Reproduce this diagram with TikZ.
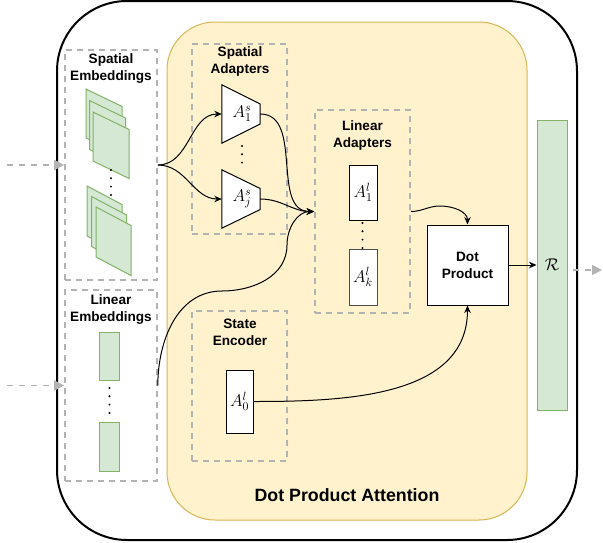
\RequirePackage{fix-cm}
\documentclass[tikz,border=0pt]{standalone}
\usepackage[no-math]{fontspec}
\setmainfont{Liberation Sans}
\usetikzlibrary{arrows.meta,calc}
\definecolor{ylwfill}{HTML}{FFF2CC}
\definecolor{ylwdraw}{HTML}{D6B656}
\definecolor{grnfill}{HTML}{D5E8D4}
\definecolor{grndraw}{HTML}{82B366}
\definecolor{dashgray}{HTML}{B3B3B3}
\begin{document}
\begin{tikzpicture}[x=1pt,y=-1pt,
  dbox/.style={draw=dashgray, line width=1.6pt, dash pattern=on 6pt off 5pt, inner sep=0pt},
  ttl/.style={font=\bfseries\fontsize{13.6}{17}\selectfont, align=center},
  wbox/.style={draw=black, fill=white, line width=1pt, inner sep=0pt},
  gbox/.style={draw=grndraw, fill=grnfill, line width=1pt, inner sep=0pt},
  conn/.style={black, line width=1pt, -{Stealth[length=7.5pt,width=6.5pt]}},
  inarr/.style={dashgray, line width=1.8pt, dash pattern=on 6pt off 6pt, -{Triangle[length=10pt,width=10pt]}},
  mlbl/.style={font=\fontsize{17}{20}\selectfont},
  dotcol/.style={line width=2.2pt, line cap=round, dash pattern=on 0pt off 8.3pt},
  trap/.style={draw=black, fill=white, line width=1pt}
]
\useasboundingbox (0,0) rectangle (603,542);
\fill[white] (0,0) rectangle (603,542);

% outer container
\node[draw=black, line width=2pt, rounded corners=70pt, minimum width=520pt, minimum height=539pt, inner sep=0pt] (outer) at (317,270.5) {};
% yellow attention container
\node[draw=ylwdraw, fill=ylwfill, line width=1pt, rounded corners=48pt, minimum width=360pt, minimum height=498pt, inner sep=0pt] (dpa) at (347,271) {};
\node[font=\bfseries\fontsize{17.8}{20}\selectfont] (dpalbl) at (347,495) {Dot Product Attention};

% dashed group boxes
\node[dbox, minimum width=92pt, minimum height=230pt] (sebox) at (111,165) {};
\node[dbox, minimum width=92pt, minimum height=191pt] (lebox) at (111,385.5) {};
\node[dbox, minimum width=95pt, minimum height=190pt] (sabox) at (239.5,139) {};
\node[dbox, minimum width=95pt, minimum height=203pt] (labox) at (362.5,211.5) {};
\node[dbox, minimum width=95pt, minimum height=150pt] (stbox) at (239.5,386) {};

% titles
\node[ttl] (setl) at (111,68.5) {Spatial\\Embeddings};
\node[ttl] (letl) at (111,309.5) {Linear\\Embeddings};
\node[ttl] (satl) at (240,61) {Spatial\\Adapters};
\node[ttl] (latl) at (362.5,135.5) {Linear\\Adapters};
\node[ttl] (sttl) at (240,332.5) {State\\Encoder};

% spatial embedding sheets
\foreach \x/\y in {86/89, 89.5/100.5, 93/112}
  \filldraw[gbox] (\x,\y) -- ++(36,17.5) -- ++(0,49) -- ++(-36,-17.5) -- cycle;
\foreach \x/\y in {87/186, 91.5/196.5, 96/207}
  \filldraw[gbox] (\x,\y) -- ++(35,18.5) -- ++(0,50) -- ++(-35,-18.5) -- cycle;
\draw[dotcol] (111,170) -- (111,196);

% linear embeddings
\node[gbox, minimum width=20pt, minimum height=48pt] (le1) at (109,356) {};
\node[gbox, minimum width=20pt, minimum height=49pt] (le2) at (109,446.5) {};
\draw[dotcol] (109.5,388) -- (109.5,414);

% spatial adapters (trapezoids)
\node[minimum width=38pt, minimum height=58pt, inner sep=0pt] (as1) at (241,114) {};
\filldraw[trap] (as1.north west) -- ($(as1.east)+(0,-10)$) -- ($(as1.east)+(0,10)$) -- (as1.south west) -- cycle;
\node[mlbl] at ($(as1)+(1,0)$) {$A_1^s$};
\node[minimum width=38pt, minimum height=58pt, inner sep=0pt] (asj) at (241,199) {};
\filldraw[trap] (asj.north west) -- ($(asj.east)+(0,-10.5)$) -- ($(asj.east)+(0,10.5)$) -- (asj.south west) -- cycle;
\node[mlbl] at ($(asj)+(1,0)$) {$A_j^s$};
\draw[dotcol] (242,146) -- (242,170);

% linear adapters
\node[wbox, minimum width=28pt, minimum height=55pt, mlbl] (al1) at (363,192.5) {$A_1^l$};
\node[wbox, draw=black!70, minimum width=28pt, minimum height=56pt, mlbl] (alk) at (363,277) {$A_k^l$};
\draw[dotcol] (362.5,223) -- (362.5,248);

% state encoder
\node[wbox, minimum width=27pt, minimum height=63pt, mlbl] (a0) at (239.5,401.5) {$A_0^l$};

% dot product
\node[wbox, minimum width=81pt, minimum height=80pt, ttl] (dp) at (467.5,265) {Dot\\Product};

% R bar
\node[gbox, minimum width=30pt, minimum height=290pt, mlbl] (rbar) at (552,265) {$\mathcal{R}$};

% connectors
\coordinate (m1) at (222,291);
\coordinate (m2) at (287,245);
\coordinate (m3) at (440,206);
\coordinate (in1) at (7,165);
\coordinate (in2) at (7,385.5);
\coordinate (o1) at (567,270);
\coordinate (o2) at (602,270);

\draw[conn] (sebox.east) to[out=0,in=180] (as1.west);
\draw[conn] (sebox.east) to[out=0,in=180] (asj.west);
\draw[conn] (as1.east) to[out=0,in=180] (labox.west);
\draw[conn] (asj.east) to[out=0,in=180] (labox.west);
\draw[conn] (lebox.east) to[out=90,in=180] (m1) to[out=0,in=-90] (m2) to[out=90,in=180] (labox.west);
\draw[conn] (labox.east) to[out=0,in=180] (m3) to[out=0,in=90] (dp.north);
\draw[conn] (a0.east) to[out=0,in=-90] (dp.south);
\draw[conn] (dp.east) -- (rbar.west);

\draw[inarr] (in1) -- (sebox.west);
\draw[inarr] (in2) -- (lebox.west);
\draw[inarr, dash phase=6pt] (o1) -- (o2);
\end{tikzpicture}
\end{document}
